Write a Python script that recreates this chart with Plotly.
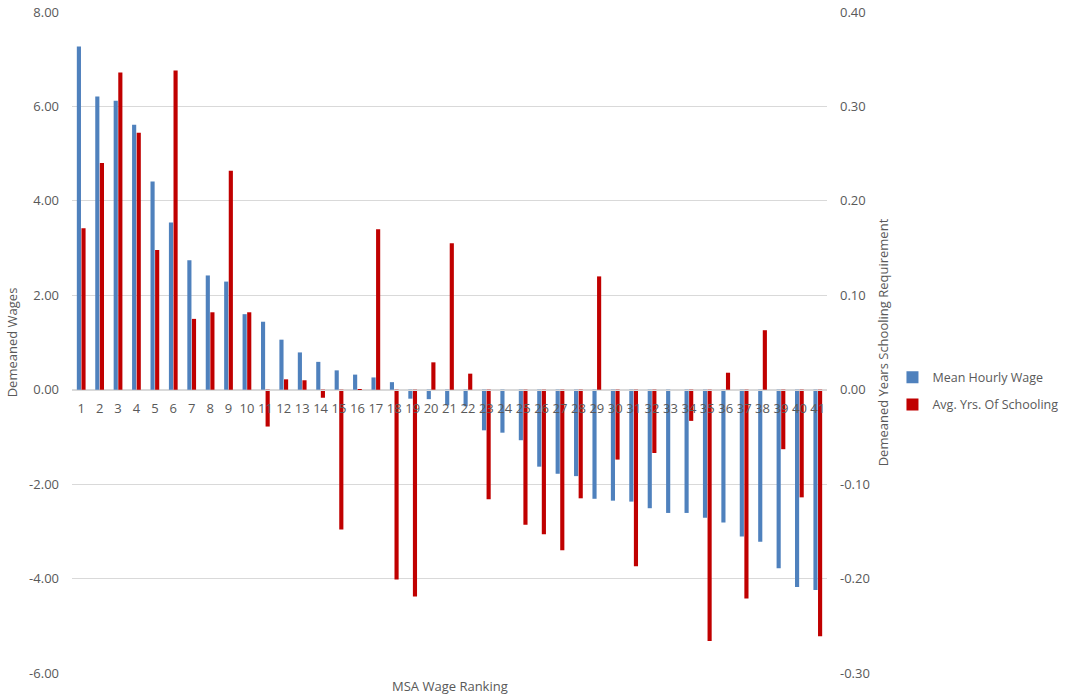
import plotly.graph_objects as go

# MSA rank (1 = highest mean wage)
ranks = [str(i) for i in range(1, 42)]

# Demeaned mean hourly wage ($)
wage = [7.27, 6.21, 6.12, 5.61, 4.41, 3.54, 2.74, 2.42, 2.29, 1.60,
        1.44, 1.06, 0.79, 0.59, 0.41, 0.32, 0.26, 0.16, -0.19, -0.20,
        -0.33, -0.35, -0.86, -0.91, -1.07, -1.63, -1.78, -1.83, -2.31, -2.35,
        -2.37, -2.51, -2.61, -2.61, -2.71, -2.81, -3.11, -3.22, -3.78, -4.18,
        -4.24]

# Demeaned average years of schooling requirement
school = [0.171, 0.240, 0.336, 0.272, 0.148, 0.338, 0.075, 0.082, 0.232, 0.082,
          -0.039, 0.011, 0.010, -0.0085, -0.148, -0.001, 0.170, -0.201, -0.219, 0.029,
          0.155, 0.017, -0.116, 0.0, -0.143, -0.153, -0.170, -0.115, 0.120, -0.074,
          -0.187, -0.067, 0.0, -0.033, -0.266, 0.018, -0.221, 0.063, -0.063, -0.114,
          -0.261]

left_ticks = [-6, -4, -2, 0, 2, 4, 6, 8]
left_text = ["-6.00", "-4.00", "-2.00", "0.00", "2.00", "4.00", "6.00", "8.00"]
right_ticks = [-0.3, -0.2, -0.1, 0.0, 0.1, 0.2, 0.3, 0.4]
right_text = ["-0.30", "-0.20", "-0.10", "0.00", "0.10", "0.20", "0.30", "0.40"]

FONT = "Open Sans"
GREY = "#595959"
BLUE = "#4f81bd"
RED = "#c00000"

fig = go.Figure()
fig.add_trace(go.Bar(x=ranks, y=wage, name="Mean Hourly Wage",
                     marker=dict(color=BLUE, line=dict(width=0)),
                     offsetgroup="w", legendgroup="w", yaxis="y"))
fig.add_trace(go.Bar(x=ranks, y=school, name="Avg. Yrs. Of Schooling",
                     marker=dict(color=RED, line=dict(width=0)),
                     offsetgroup="s", legendgroup="s", yaxis="y2"))

fig.update_layout(
    width=1065, height=698,
    margin=dict(l=72, r=238, t=12, b=25),
    paper_bgcolor="white", plot_bgcolor="white",
    barmode="group", bargap=0.5, bargroupgap=0.1,
    font=dict(family=FONT, size=13, color=GREY),
    xaxis=dict(
        type="category", anchor="free", position=6 / 14,
        showline=True, linecolor="#d9d9d9", linewidth=1,
        ticks="", showgrid=False, ticklabelstandoff=7,
        tickfont=dict(size=13, color=GREY), automargin=False,
    ),
    yaxis=dict(
        range=[-6, 8], tickvals=left_ticks, ticktext=left_text,
        showgrid=True, gridcolor="#d9d9d9", gridwidth=1,
        zeroline=False, showline=False, ticks="",
        ticklabelstandoff=12, tickfont=dict(size=13, color=GREY),
        automargin=False,
        title=dict(text="Demeaned Wages", font=dict(size=13, color=GREY), standoff=8),
    ),
    yaxis2=dict(
        range=[-0.3, 0.4], tickvals=right_ticks, ticktext=right_text,
        overlaying="y", side="right", showgrid=False, zeroline=False,
        showline=False, ticks="", ticklabelstandoff=12,
        tickfont=dict(size=13, color=GREY), automargin=False,
        title=dict(text="Demeaned Years Schooling Requirement",
                   font=dict(size=13, color=GREY), standoff=12),
    ),
    legend=dict(xref="container", yref="container",
                x=0.838, y=(698 - 391) / 698, xanchor="left", yanchor="middle",
                font=dict(size=12.5, color=GREY), bgcolor="rgba(0,0,0,0)",
                itemwidth=30, tracegroupgap=8),
    annotations=[dict(text="MSA Wage Ranking", xref="paper", yref="paper",
                      x=0.5, y=-0.02, yanchor="middle", showarrow=False,
                      font=dict(size=13, color=GREY))],
)

fig.write_html("out.html")
